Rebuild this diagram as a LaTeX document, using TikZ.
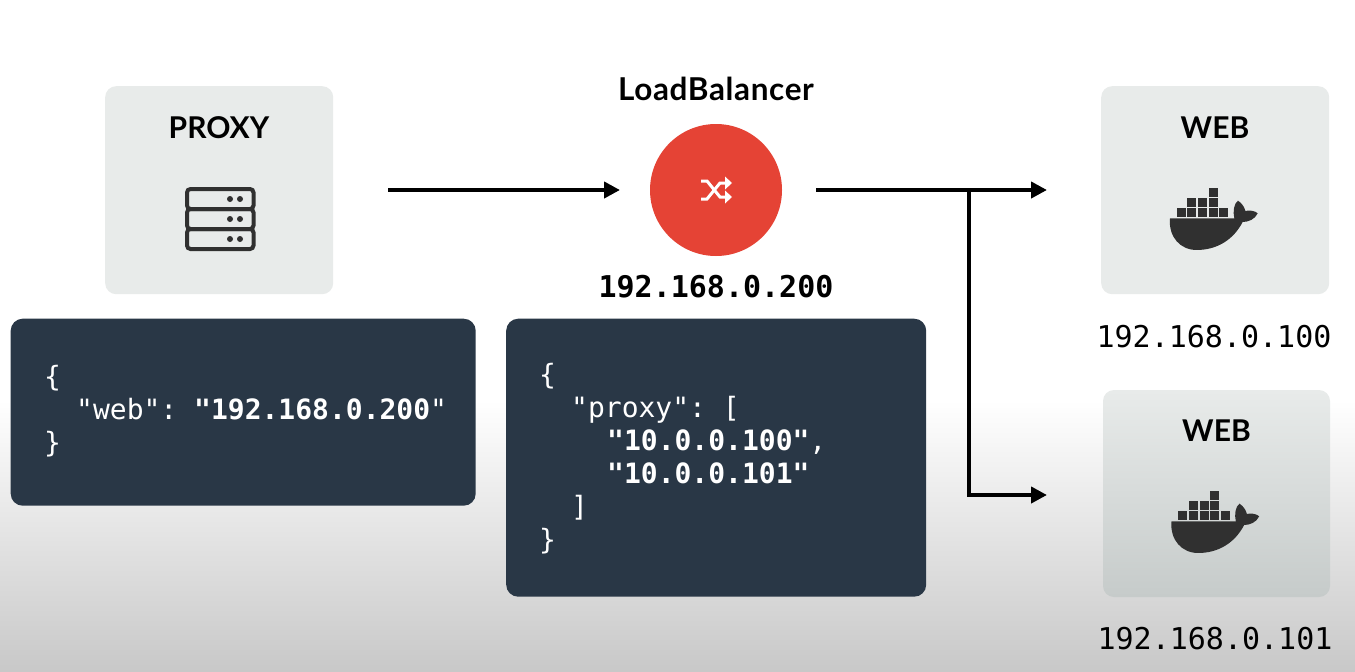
\documentclass[tikz,border=0pt]{standalone}
\usepackage{fontspec}
\setmainfont{Lato}
\setmonofont{DejaVu Sans Mono}
\usetikzlibrary{arrows.meta}
\definecolor{panel}{HTML}{E8EBEA}
\definecolor{panelend}{HTML}{C6CBCA}
\definecolor{navy}{HTML}{293746}
\definecolor{ink}{HTML}{303030}
\definecolor{lbred}{HTML}{E54335}
\definecolor{bgend}{HTML}{C8C8C8}
\newcommand{\indone}{\hspace*{32pt}}
\newcommand{\indtwo}{\hspace*{68pt}}
\tikzset{
  x=1pt,y=-1pt,
  panelbox/.style={fill=panel,rounded corners=11pt,draw=none},
  codebox/.style={fill=navy,rounded corners=12pt,draw=none},
  title/.style={font=\fontsize{30}{30}\selectfont\bfseries,text=black,inner sep=0pt,anchor=base},
  addr/.style={font=\ttfamily\fontsize{30}{30}\selectfont,text=black,inner sep=0pt,anchor=base},
  code/.style={font=\ttfamily\fontsize{28}{33}\selectfont,text=white,inner sep=0pt,anchor=north west,align=left},
  link/.style={draw=black,line width=4pt,-{Triangle[length=16pt,width=16pt]}},
}
% docker whale drawn in 420x300 zoom coordinates
\newcommand{\whale}[2]{%
  \begin{scope}[shift={(#1,#2)},x=0.3333pt,y=-0.3333pt]
    \fill[ink] (90,145) -- (283,145) .. controls (278,125) and (282,100) .. (294,92)
      .. controls (306,100) and (314,112) .. (316,123)
      .. controls (328,120) and (345,122) .. (353,130)
      .. controls (345,148) and (325,156) .. (308,156)
      .. controls (280,210) and (230,240) .. (170,240)
      .. controls (120,240) and (85,200) .. (90,145) -- cycle;
    \foreach \bx in {110,142,174,206,238} \fill[ink] (\bx,115) rectangle ++(27,25);
    \foreach \bx in {142,174,206} \fill[ink] (\bx,85) rectangle ++(27,25);
    \fill[ink] (206,55) rectangle ++(27,25);
  \end{scope}}
\begin{document}
\begin{tikzpicture}
  \useasboundingbox (0,0) rectangle (1355,672);
  \fill[white] (0,0) rectangle (1355,672);
  \shade[top color=white,bottom color=bgend,shading=axis] (0,400) rectangle (1355,672);

  % panels
  \node[panelbox,minimum width=228pt,minimum height=208pt,anchor=north west,inner sep=0pt] (proxybox) at (105,86) {};
  \node[panelbox,minimum width=228pt,minimum height=208pt,anchor=north west,inner sep=0pt] (webA) at (1101,86) {};
  \shade[top color=panel,bottom color=panelend,rounded corners=11pt] (1103,390) rectangle (1330,597);
  \node[minimum width=227pt,minimum height=207pt,anchor=north west,inner sep=0pt] (webB) at (1103,390) {};

  % titles
  \node[title] (proxytitle) at (219,138) {PROXY};
  \node[title] (webAtitle) at (1215,138) {WEB};
  \node[title] (webBtitle) at (1216.5,441) {WEB};
  \node[title,font=\fontsize{31.5}{31.5}\selectfont\bfseries\addfontfeature{LetterSpace=2}] (lbtitle) at (716,100) {LoadBalancer};

  % load balancer
  \node[circle,fill=lbred,minimum size=132pt,inner sep=0pt] (lb) at (716,190) {};
  \begin{scope}[white,line width=3pt]
    \draw (701,181) -- (707,181) -- (720,197) -- (726,197);
    \draw (701,199) -- (707,199) -- (720,183) -- (726,183);
    \fill (725,176.5) -- (732,183) -- (725,189.5) -- cycle;
    \fill (725,190.5) -- (732,197) -- (725,203.5) -- cycle;
  \end{scope}

  % server icon
  \begin{scope}[ink,line width=4pt]
    \foreach \sy in {189,209,229} {
      \draw[rounded corners=3.5pt] (187,\sy) rectangle (253.5,\sy+20);
      \fill (230,\sy+10) circle (3pt);
      \fill (240,\sy+10) circle (3pt);
    }
  \end{scope}

  \whale{1140}{170}
  \whale{1141.5}{473}

  % addresses
  \node[addr,font=\ttfamily\bfseries\fontsize{30}{30}\selectfont] (lbaddr) at (716,297) {192.168.0.200};
  \node[addr] (webAaddr) at (1214,347) {192.168.0.100};
  \node[addr] (webBaddr) at (1215,649) {192.168.0.101};

  % code boxes
  \node[codebox,minimum width=465pt,minimum height=187pt,anchor=north west,inner sep=0pt] (codeA) at (10.5,318.5) {};
  \node[codebox,minimum width=420pt,minimum height=278pt,anchor=north west,inner sep=0pt] (codeB) at (506,318.5) {};
  \node[code] (codeAtext) at (44,365) {\{\\
\indone "web": \textbf{"192.168.0.200}"\\
\}};
  \node[code] (codeBtext) at (539,363) {\{\\
\indone "proxy": [\\
\indtwo\textbf{"10.0.0.100"},\\
\indtwo\textbf{"10.0.0.101"}\\
\indone ]\\
\}};

  % connectors
  \coordinate (proxyout) at (388,190);
  \coordinate (lbin) at (620,190);
  \coordinate (lbout) at (816,190);
  \coordinate (webAin) at (1047,190);
  \coordinate (branch) at (969,190);
  \coordinate (webBin) at (1047,495);
  \draw[link] (proxyout) -- (lbin);
  \draw[link] (lbout) -- (webAin);
  \draw[link] (branch) |- (webBin);
\end{tikzpicture}
\end{document}
